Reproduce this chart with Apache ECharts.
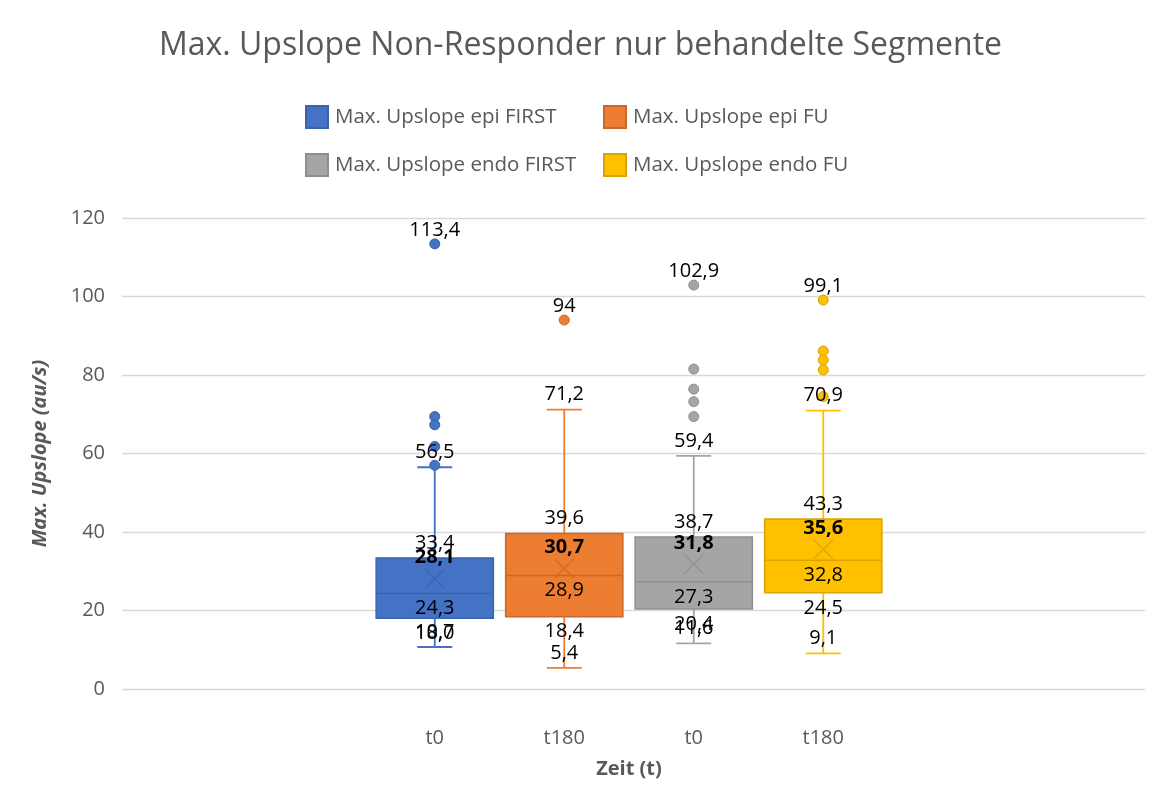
<!DOCTYPE html>
<html>
<head>
<meta charset="utf-8">
<script src="https://cdn.jsdelivr.net/npm/echarts@6/dist/echarts.min.js"></script>
<style>
  html, body { margin: 0; padding: 0; background: #fff; }
  #chart { width: 1161px; height: 791px; }
</style>
</head>
<body>
<div id="chart"></div>
<script>
// Daten
const categories = ['t0', 't180', 't0', 't180'];
const seriesNames = [
  'Max. Upslope epi FIRST',
  'Max. Upslope epi FU',
  'Max. Upslope endo FIRST',
  'Max. Upslope endo FU'
];
// [min, Q1, Median, Q3, max]
const boxEpiFirst = [10.7, 18.0, 24.3, 33.4, 56.5];
const boxEpiFu = [5.4, 18.4, 28.9, 39.6, 71.2];
const boxEndoFirst = [11.6, 20.4, 27.3, 38.7, 59.4];
const boxEndoFu = [9.1, 24.5, 32.8, 43.3, 70.9];
const means = [28.1, 30.7, 31.8, 35.6];
const outEpiFirst = [113.4, 69.4, 67.3, 61.8, 57.0];
const outEpiFu = [94];
const outEndoFirst = [102.9, 81.5, 76.4, 73.2, 69.4];
const outEndoFu = [99.1, 86.1, 83.8, 81.3, 74.5];
const yTicks = [0, 20, 40, 60, 80, 100, 120];

const boxes = [boxEpiFirst, boxEpiFu, boxEndoFirst, boxEndoFu];
const outliers = [outEpiFirst, outEpiFu, outEndoFirst, outEndoFu];
const colors = ['#4472C4', '#ED7D31', '#A5A5A5', '#FFC000'];
const darks = ['#3A63AB', '#C9682A', '#8E8E8E', '#D9A300'];
const FONT = 'Open Sans';
const LBL = 20;

const fmt = v => v.toFixed(1).replace('.', ',');

function makeBoxRenderer(i) {
  return function (params, api) {
    const x = api.value(0);
    const pMin = api.coord([x, api.value(1)]);
    const pQ1 = api.coord([x, api.value(2)]);
    const pMed = api.coord([x, api.value(3)]);
    const pQ3 = api.coord([x, api.value(4)]);
    const pMax = api.coord([x, api.value(5)]);
    const band = api.size([1, 0])[0];
    const bw = band * 0.905;
    const cw = band * 0.27;
    const cx = pMed[0];
    const line = { stroke: colors[i], lineWidth: 1.8 };
    return {
      type: 'group',
      children: [
        { type: 'line', shape: { x1: cx, y1: pMax[1], x2: cx, y2: pQ3[1] }, style: line },
        { type: 'line', shape: { x1: cx, y1: pQ1[1], x2: cx, y2: pMin[1] }, style: line },
        { type: 'line', shape: { x1: cx - cw / 2, y1: pMax[1], x2: cx + cw / 2, y2: pMax[1] }, style: line },
        { type: 'line', shape: { x1: cx - cw / 2, y1: pMin[1], x2: cx + cw / 2, y2: pMin[1] }, style: line },
        { type: 'rect', shape: { x: cx - bw / 2, y: pQ3[1], width: bw, height: pQ1[1] - pQ3[1] },
          style: { fill: colors[i], stroke: darks[i], lineWidth: 1.5 } },
        { type: 'line', shape: { x1: cx - bw / 2, y1: pMed[1], x2: cx + bw / 2, y2: pMed[1] },
          style: { stroke: darks[i], lineWidth: 1.5 } }
      ]
    };
  };
}

const series = [];
boxes.forEach((b, i) => {
  series.push({
    name: seriesNames[i],
    type: 'custom',
    xAxisIndex: 1,
    yAxisIndex: 1,
    itemStyle: { color: colors[i], borderColor: darks[i], borderWidth: 1 },
    renderItem: makeBoxRenderer(i),
    encode: { x: 0, y: [1, 2, 3, 4, 5] },
    data: [[i].concat(b)],
    z: 2
  });
  series.push({
    name: seriesNames[i],
    type: 'scatter',
    xAxisIndex: 1,
    yAxisIndex: 1,
    symbolSize: 10,
    itemStyle: { color: colors[i], borderColor: darks[i], borderWidth: 1, opacity: 1 },
    data: outliers[i].map(v => [i, v]),
    z: 3
  });
  // Mittelwert-Kreuz
  series.push({
    name: 'mean' + i,
    type: 'scatter',
    xAxisIndex: 1,
    yAxisIndex: 1,
    symbol: 'path://M0,0L10,10M10,0L0,10',
    symbolSize: 19,
    itemStyle: { color: 'rgba(0,0,0,0)', borderColor: darks[i], borderWidth: 1.5 },
    data: [[i, means[i]]],
    z: 3
  });
});

// Datenbeschriftungen: [Kategorie, Wert, Text, Versatz, fett]
const labelRows = [];
boxes.forEach((b, i) => {
  const off = [-15, 15, 15, -15, -15];
  b.forEach((v, k) => labelRows.push([i, v, fmt(v), off[k], 0]));
  labelRows.push([i, means[i], fmt(means[i]), -21, 1]);
  labelRows.push([i, outliers[i][0], String(outliers[i][0]).replace('.', ','), -14, 0]);
});
series.push({
  name: 'labels',
  type: 'custom',
  xAxisIndex: 1,
  yAxisIndex: 1,
  silent: true,
  encode: { x: 0, y: 1 },
  data: labelRows,
  renderItem: function (params, api) {
    const row = labelRows[params.dataIndex];
    const p = api.coord([row[0], row[1]]);
    return {
      type: 'text',
      x: p[0],
      y: p[1] + row[3],
      style: {
        text: row[2],
        fill: '#000',
        font: (row[4] ? 'bold ' : '') + LBL + 'px "' + FONT + '"',
        textAlign: 'center',
        textVerticalAlign: 'middle'
      }
    };
  },
  z: 5
});

const legendPos = [[300, 100], [598, 100], [300, 148], [598, 148]];
const legends = seriesNames.map((n, i) => ({
  data: [n],
  left: legendPos[i][0],
  top: legendPos[i][1],
  icon: 'rect',
  itemWidth: 22,
  itemHeight: 22,
  itemGap: 10,
  selectedMode: false,
  textStyle: { color: '#595959', fontSize: 20.5, fontFamily: FONT, padding: [0, 0, 0, 2] }
}));

const chart = echarts.init(document.getElementById('chart'));
chart.setOption({
  backgroundColor: '#fff',
  animation: false,
  textStyle: { fontFamily: FONT },
  title: {
    text: 'Max. Upslope Non-Responder nur behandelte Segmente',
    left: 'center',
    top: 25,
    textStyle: { color: '#595959', fontSize: 32, fontWeight: 'normal', fontFamily: FONT }
  },
  legend: legends,
  grid: [
    { left: 122, right: 16, top: 218, bottom: 102 },
    { left: 370, right: 273, top: 218, bottom: 102 }
  ],
  xAxis: [
    { gridIndex: 0, type: 'value', show: false, min: 0, max: 1 },
    {
      gridIndex: 1,
      type: 'category',
      data: categories,
      axisLine: { show: false },
      axisTick: { show: false },
      axisLabel: { color: '#595959', fontSize: 20, margin: 39, fontFamily: FONT },
      name: 'Zeit (t)',
      nameLocation: 'middle',
      nameGap: 70,
      nameTextStyle: { color: '#595959', fontSize: 20, fontWeight: 'bold', fontFamily: FONT }
    }
  ],
  yAxis: [
    {
      gridIndex: 0,
      type: 'value',
      min: yTicks[0],
      max: yTicks[yTicks.length - 1],
      interval: 20,
      axisLine: { show: false },
      axisTick: { show: false },
      axisLabel: { color: '#595959', fontSize: 20, margin: 17, fontFamily: FONT },
      splitLine: { lineStyle: { color: '#D9D9D9', width: 1.3 } },
      name: 'Max. Upslope (au/s)',
      nameLocation: 'middle',
      nameRotate: 90,
      nameGap: 72,
      nameTextStyle: { color: '#595959', fontSize: 20, fontWeight: 'bold', fontStyle: 'italic', fontFamily: FONT }
    },
    {
      gridIndex: 1,
      type: 'value',
      min: yTicks[0],
      max: yTicks[yTicks.length - 1],
      interval: 20,
      show: false,
      splitLine: { show: false }
    }
  ],
  series: series
});
</script>
</body>
</html>
